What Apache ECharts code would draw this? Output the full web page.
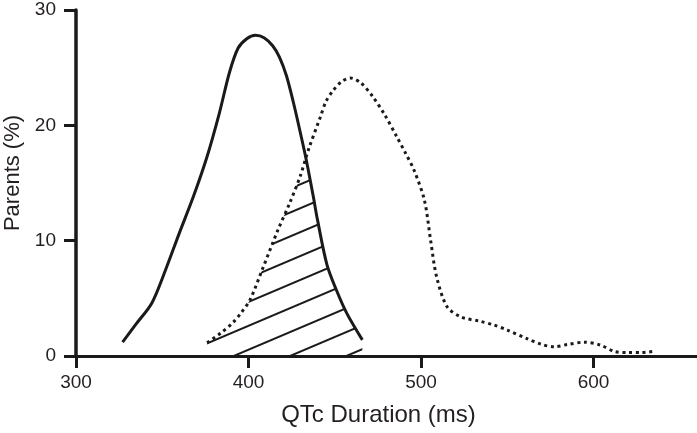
<!DOCTYPE html>
<html>
<head>
<meta charset="utf-8">
<script src="https://cdn.jsdelivr.net/npm/echarts@6/dist/echarts.min.js"></script>
<style>
html,body{margin:0;padding:0;background:#fff;}
#chart{width:697px;height:433px;}
</style>
</head>
<body>
<div id="chart"></div>
<script>
// QTc duration (ms) vs percentage
var solidCurve = [
  [327,1.2],[335,2.8],[344,4.6],[352,7.5],[360,10.7],[368,13.8],[376,17.3],[383,21.0],
  [389,24.6],[394,26.7],[399,27.5],[404,27.8],[409,27.6],[414,26.9],[418,25.9],[422,24.3],
  [426,22.0],[430,19.4],[433.5,17.0],[437.6,13.8],[440,11.8],[445.5,7.9],[451,5.7],
  [457,3.7],[466,1.4]
];
var dottedCurve = [
  [376,1.15],[384,2.0],[391,2.9],[396,3.8],[401,4.9],[408,7.5],[417,10.9],[424,13.3],
  [430,15.6],[435,18.0],[441.6,20.7],[445,22.1],[449,23.0],[454,23.8],[459,24.1],
  [465,23.7],[472,22.5],[479,20.9],[486,19.0],[491,17.6],[496,16.1],[502,13.5],
  [505.6,10.0],[509,6.9],[515,4.3],[523,3.4],[534.5,3.0],[542,2.7],[550,2.25],
  [561.5,1.5],[570,1.0],[577,0.8],[585,1.0],[594.5,1.2],[604,0.95],[612,0.4],
  [620,0.3],[628,0.3],[635,0.4]
];
var overlapRegion = [
  [376,1.15],[384,2.0],[391,2.9],[396,3.8],[401,4.9],[408,7.5],[417,10.9],[424,13.3],
  [430,15.6],[433.5,17.0],[437.6,13.8],[440,11.8],[445.5,7.9],[451,5.7],[457,3.7],[466,1.4]
];
var xTicks = [300,400,500,600];
var yTicks = [0,10,20,30];

var chart = echarts.init(document.getElementById('chart'));
var font = 'Liberation Sans, Arial, Helvetica, sans-serif';
var ink = '#1a1a1a';
chart.setOption({
  animation:false,
  backgroundColor:'#fff',
  grid:{left:76,right:0,top:10,bottom:77,containLabel:false,outerBoundsMode:'none'},
  xAxis:{
    type:'value',min:300,max:660,interval:100,
    name:'QTc Duration (ms)',nameLocation:'middle',nameGap:47,
    nameTextStyle:{fontFamily:font,fontSize:24,color:'#231f20',padding:[0,16,0,0]},
    axisLine:{show:true,onZero:false,lineStyle:{color:ink,width:3}},
    axisTick:{show:true,length:12,lineStyle:{color:ink,width:3},customValues:xTicks},
    axisLabel:{fontFamily:font,fontSize:19,color:'#231f20',margin:17,customValues:xTicks},
    splitLine:{show:false}
  },
  yAxis:{
    type:'value',min:0,max:30,interval:10,
    name:'Parents (%)',nameLocation:'middle',nameGap:50,
    nameTextStyle:{fontFamily:font,fontSize:22,color:'#231f20',padding:[0,0,0,20]},
    axisLine:{show:true,lineStyle:{color:ink,width:3.5}},
    axisTick:{show:true,length:12,lineStyle:{color:ink,width:3},customValues:yTicks},
    axisLabel:{fontFamily:font,fontSize:19,color:'#231f20',margin:20,customValues:yTicks},
    splitLine:{show:false}
  },
  series:[
    {
      type:'line',data:overlapRegion,smooth:0.3,symbol:'none',silent:true,
      lineStyle:{width:0,opacity:0},
      itemStyle:{color:'rgba(255,255,255,0)',decal:{
        symbol:'rect',symbolSize:1,color:ink,
        dashArrayX:[[1,0]],dashArrayY:[1.6,19.5],rotation:-Math.PI*23/180
      }},
      areaStyle:{color:'rgba(255,255,255,0)',opacity:1},
      z:1
    },
    {
      type:'line',data:solidCurve,smooth:0.3,symbol:'none',
      lineStyle:{color:ink,width:3,cap:'butt'},z:3
    },
    {
      type:'line',data:dottedCurve,smooth:0.3,symbol:'none',
      lineStyle:{color:ink,width:3,type:[3,3.7],cap:'butt'},z:2
    }
  ]
});
</script>
</body>
</html>
